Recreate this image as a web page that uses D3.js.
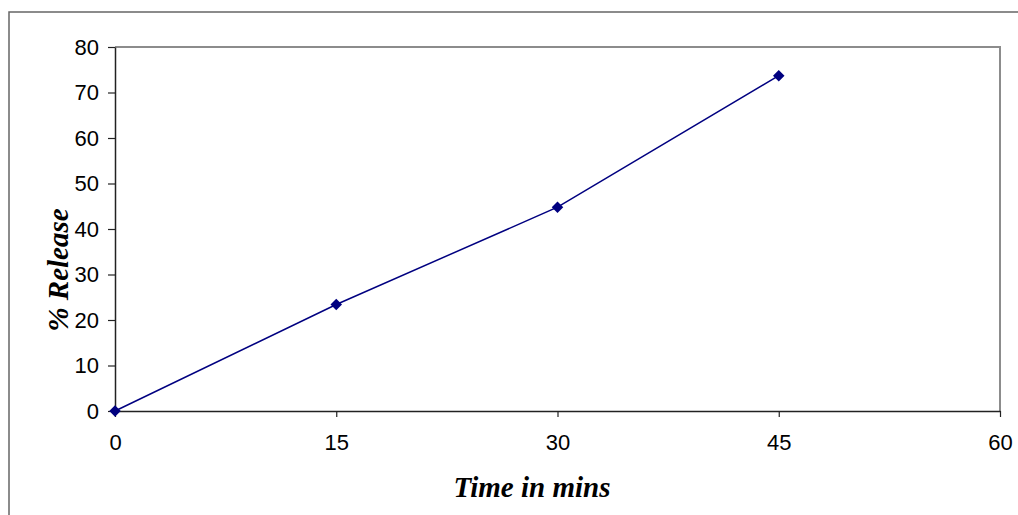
<!DOCTYPE html>
<html>
<head>
<meta charset="utf-8">
<script src="https://cdn.jsdelivr.net/npm/d3@7"></script>
<style>
  html, body { margin: 0; padding: 0; background: #fff; }
  svg { display: block; }
</style>
</head>
<body>
<svg id="chart" width="1018" height="515"></svg>
<script>
// Cumulative drug release over time
const times = [0, 15, 30, 45];
const release = [0, 23.4, 44.8, 73.7];
const xTicks = [0, 15, 30, 45, 60];
const yTicks = [0, 10, 20, 30, 40, 50, 60, 70, 80];

const svg = d3.select("#chart");
const W = 1018, H = 515;
const plot = { left: 115, right: 1000, top: 47, bottom: 411 };

// outer chart frame (continues past the right and bottom edges)
svg.append("rect")
  .attr("x", 9).attr("y", 12)
  .attr("width", W + 20).attr("height", H + 20)
  .attr("fill", "#fff")
  .attr("stroke", "#666").attr("stroke-width", 1.5);

const x = d3.scaleLinear().domain([0, 60]).range([plot.left, plot.right]);
const y = d3.scaleLinear().domain([0, 80]).range([plot.bottom, plot.top]);

// plot area border: grey on top and right
svg.append("path")
  .attr("d", `M${plot.left},${plot.top}H${plot.right}V${plot.bottom}`)
  .attr("fill", "none").attr("stroke", "#8c8c8c").attr("stroke-width", 2);

const tickFont = "'Liberation Sans', Arial, sans-serif";

const yAxis = svg.append("g")
  .attr("transform", `translate(${plot.left},0)`)
  .call(d3.axisLeft(y).tickValues(yTicks).tickSize(7).tickPadding(9).tickSizeOuter(0));
const xAxis = svg.append("g")
  .attr("transform", `translate(0,${plot.bottom})`)
  .call(d3.axisBottom(x).tickValues(xTicks).tickSize(6).tickPadding(17).tickSizeOuter(0));

[yAxis, xAxis].forEach(g => {
  g.select(".domain").attr("stroke", "#222").attr("stroke-width", 1.5);
  g.selectAll(".tick line").attr("stroke", "#222").attr("stroke-width", 1.2);
  g.selectAll(".tick text")
    .attr("fill", "#000")
    .style("font-family", tickFont)
    .style("font-size", "22px");
});

// data series
const pts = times.map((t, i) => [t, release[i]]);
svg.append("path")
  .datum(pts)
  .attr("fill", "none")
  .attr("stroke", "#000080")
  .attr("stroke-width", 1.5)
  .attr("d", d3.line().x(d => x(d[0])).y(d => y(d[1])));

svg.append("g").selectAll("path")
  .data(pts)
  .join("path")
  .attr("transform", d => `translate(${x(d[0])},${y(d[1])})`)
  .attr("d", d3.symbol(d3.symbolDiamond2, 85))
  .attr("fill", "#000080");

// axis titles
const titleFont = "'Liberation Serif', 'DejaVu Serif', serif";
svg.append("text")
  .attr("x", 532).attr("y", 497)
  .attr("text-anchor", "middle")
  .style("font-family", titleFont)
  .style("font-style", "italic")
  .style("font-weight", "bold")
  .style("font-size", "29px")
  .text("Time in mins");

svg.append("text")
  .attr("transform", "translate(68,270) rotate(-90)")
  .attr("text-anchor", "middle")
  .style("font-family", titleFont)
  .style("font-style", "italic")
  .style("font-weight", "bold")
  .style("font-size", "29px")
  .text("% Release");
</script>
</body>
</html>
